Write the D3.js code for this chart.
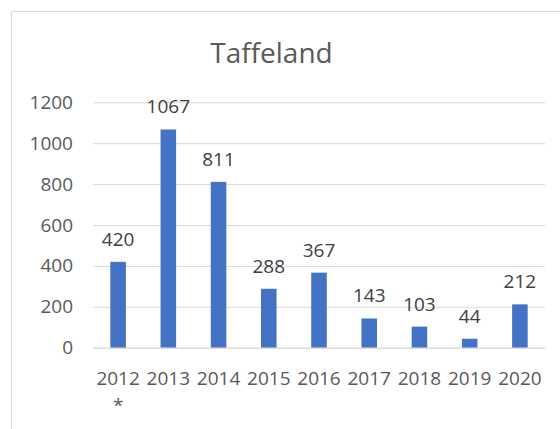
<!DOCTYPE html>
<html>
<head>
<meta charset="utf-8">
<script src="https://cdn.jsdelivr.net/npm/d3@7"></script>
<style>
  body { margin: 0; background: #fff; }
  text { font-family: "Open Sans", sans-serif; }
</style>
</head>
<body>
<div class="chart"></div>
<script>
// Set Parms
var svgWidth = 560;
var svgHeight = 429;

// Data
var years = ["2012", "2013", "2014", "2015", "2016", "2017", "2018", "2019", "2020"];
var counts = [420, 1067, 811, 288, 367, 143, 103, 44, 212];
var yTicks = [0, 200, 400, 600, 800, 1000, 1200];
var title = "Taffeland";
var footMark = { year: "2012", mark: "*" };

var data = years.map(function(y, i) { return { year: y, value: counts[i] }; });

// The svg
var svg = d3.select(".chart")
  .append("svg")
  .attr("width", svgWidth)
  .attr("height", svgHeight);

// chart frame (runs off the right and bottom)
svg.append("path")
  .attr("d", "M11.5," + svgHeight + "V11.5H" + svgWidth)
  .attr("fill", "none")
  .attr("stroke", "#d9d9d9")
  .attr("stroke-width", 1);

// scales
var x = d3.scaleBand()
  .domain(years)
  .range([93, 545])
  .paddingInner(0.69)
  .paddingOuter(0.345);

var y = d3.scaleLinear()
  .domain([0, 1200])
  .range([347.7, 102.3]);

// title
svg.append("text")
  .attr("x", 271.5)
  .attr("y", 63)
  .attr("text-anchor", "middle")
  .attr("fill", "#595959")
  .style("font-size", "28px")
  .text(title);

// gridlines + y labels
var yAxis = svg.append("g")
  .attr("transform", "translate(93,0)")
  .call(d3.axisLeft(y).tickValues(yTicks).tickFormat(d3.format("d")).tickSize(-452).tickPadding(20));
yAxis.select(".domain").remove();
yAxis.selectAll(".tick line").attr("stroke", "#d9d9d9");
yAxis.selectAll(".tick text")
  .attr("fill", "#595959")
  .style("font-size", "19px")
  .style("font-family", "'Open Sans', sans-serif");

// bars
svg.append("g")
  .selectAll("rect")
  .data(data)
  .enter()
  .append("rect")
    .attr("x", function(d) { return x(d.year); })
    .attr("y", function(d) { return y(d.value); })
    .attr("width", x.bandwidth())
    .attr("height", function(d) { return y(0) - y(d.value); })
    .attr("fill", "#4472c4");

// data labels
svg.append("g")
  .selectAll("text")
  .data(data)
  .enter()
  .append("text")
    .attr("x", function(d) { return x(d.year) + x.bandwidth() / 2; })
    .attr("y", function(d) { return y(d.value) - 16; })
    .attr("text-anchor", "middle")
    .attr("fill", "#404040")
    .style("font-size", "19px")
    .text(function(d) { return d.value; });

// x axis
var xAxis = svg.append("g")
  .attr("transform", "translate(0," + y(0) + ")")
  .call(d3.axisBottom(x).tickSize(0).tickPadding(0));
xAxis.select(".domain")
  .attr("stroke", "#d9d9d9")
  .attr("d", "M93,0.5H545");
xAxis.selectAll(".tick text")
  .attr("fill", "#595959")
  .attr("y", 37)
  .attr("dy", null)
  .style("font-size", "19px")
  .style("font-family", "'Open Sans', sans-serif");

// footnote mark under first year
svg.append("text")
  .attr("x", x(footMark.year) + x.bandwidth() / 2)
  .attr("y", 412)
  .attr("text-anchor", "middle")
  .attr("fill", "#595959")
  .style("font-size", "19px")
  .text(footMark.mark);
</script>
</body>
</html>
